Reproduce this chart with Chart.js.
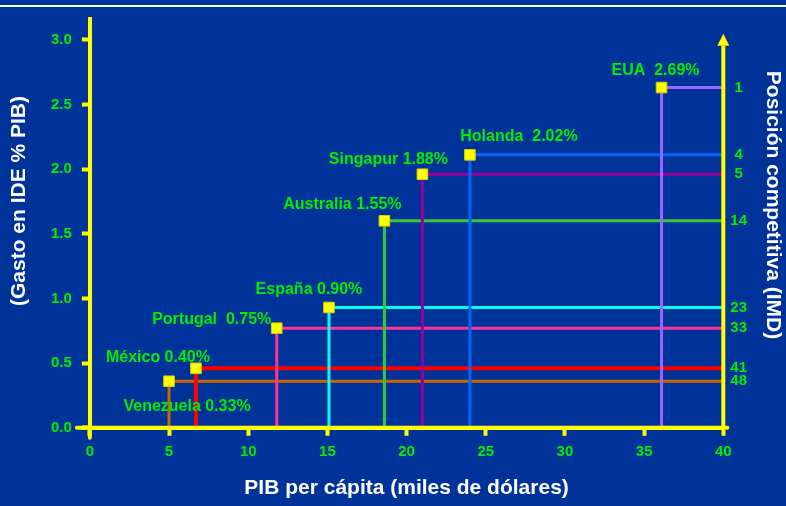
<!DOCTYPE html>
<html>
<head>
<meta charset="utf-8">
<script src="https://cdn.jsdelivr.net/npm/chart.js@4"></script>
<style>
  html, body { margin: 0; padding: 0; background: #003399; }
  #wrap { position: relative; width: 786px; height: 506px; overflow: hidden; }
  #topline { position: absolute; left: 0; top: 5px; width: 786px; height: 2px; background: #ffffff; }
  #chart { position: absolute; left: 0; top: 0; }
</style>
</head>
<body>
<div id="wrap">
  <div id="topline"></div>
  <canvas id="chart" width="786" height="506"></canvas>
</div>
<script>
// datos
var countries   = ['EUA', 'Holanda', 'Singapur', 'Australia', 'España', 'Portugal', 'México', 'Venezuela'];
var pointLabels = ['EUA  2.69%', 'Holanda  2.02%', 'Singapur 1.88%', 'Australia 1.55%', 'España 0.90%', 'Portugal  0.75%', 'México 0.40%', 'Venezuela 0.33%'];
var pibPerCapita = [36.1, 24.0, 21.0, 18.6, 15.1, 11.8, 6.7, 5.0];
var gastoIDE     = [2.63, 2.11, 1.96, 1.60, 0.93, 0.77, 0.46, 0.36];
var posicionIMD  = [1, 4, 5, 14, 23, 33, 41, 48];
var xTicks = [0, 5, 10, 15, 20, 25, 30, 35, 40];
var yTicks = [0, 0.5, 1.0, 1.5, 2.0, 2.5, 3.0];

var COLORS = ['#9966ff', '#0066ff', '#990099', '#33cc33', '#00ffff', '#ff3399', '#ff0000', '#cc6600'];
// desplazamiento de cada etiqueta respecto a su esquina (px)
var LABEL_OFFSETS = [[-6, -17], [49, -18], [-34, -15], [-42, -16], [-20, -18], [-65, -9], [-38, -11], [18, 25]];

var GREEN = '#00ee00';
var YELLOW = '#ffff00';
var FONT = '"Liberation Sans", Arial, sans-serif';
var X_MAX = xTicks[xTicks.length - 1];
var Y_MAX = 3.16;

var datasets = countries.map(function(c, i) {
  return {
    label: c,
    data: [
      { x: pibPerCapita[i], y: 0 },
      { x: pibPerCapita[i], y: gastoIDE[i] },
      { x: X_MAX, y: gastoIDE[i] }
    ],
    borderColor: COLORS[i],
    borderWidth: i === 6 ? 4 : 3,
    tension: 0,
    fill: false,
    pointRadius: [0, 7.5, 0],
    pointHoverRadius: [0, 7.5, 0],
    pointStyle: 'rect',
    pointBackgroundColor: YELLOW,
    pointBorderColor: '#d8d000',
    pointBorderWidth: 1
  };
});

var decor = {
  id: 'decor',
  afterDatasetsDraw: function(chart) {
    var ctx = chart.ctx;
    var area = chart.chartArea;
    var xs = chart.scales.x, ys = chart.scales.y;
    ctx.save();

    // eje x se prolonga a la izquierda
    ctx.strokeStyle = YELLOW;
    ctx.lineWidth = 4;
    ctx.lineCap = 'round';
    ctx.beginPath();
    ctx.moveTo(area.left - 13, area.bottom);
    ctx.lineTo(area.right + 4, area.bottom);
    ctx.stroke();
    ctx.beginPath();
    ctx.moveTo(area.left, area.bottom);
    ctx.lineTo(area.left, area.bottom + 10);
    ctx.stroke();

    // eje derecho con flecha
    var arrowBase = ys.getPixelForValue(3.0) + 6;
    ctx.lineCap = 'butt';
    ctx.beginPath();
    ctx.moveTo(area.right, area.bottom);
    ctx.lineTo(area.right, arrowBase);
    ctx.stroke();
    ctx.fillStyle = YELLOW;
    ctx.beginPath();
    ctx.moveTo(area.right - 6, arrowBase);
    ctx.lineTo(area.right + 6, arrowBase);
    ctx.lineTo(area.right, arrowBase - 12);
    ctx.closePath();
    ctx.fill();

    // etiquetas de paises
    ctx.font = 'bold 16px ' + FONT;
    ctx.fillStyle = GREEN;
    ctx.textAlign = 'center';
    ctx.textBaseline = 'middle';
    pointLabels.forEach(function(t, i) {
      var px = xs.getPixelForValue(pibPerCapita[i]);
      var py = ys.getPixelForValue(gastoIDE[i]);
      ctx.fillText(t, px + LABEL_OFFSETS[i][0], py + LABEL_OFFSETS[i][1]);
    });

    // titulos verticales
    ctx.fillStyle = '#ffffff';
    ctx.font = 'bold 21px ' + FONT;
    ctx.save();
    ctx.translate(19, 201);
    ctx.rotate(-Math.PI / 2);
    ctx.fillText('(Gasto en IDE % PIB)', 0, 0);
    ctx.restore();
    ctx.save();
    ctx.translate(773, 205);
    ctx.rotate(Math.PI / 2);
    ctx.fillText('Posición competitiva (IMD)', 0, 0);
    ctx.restore();

    ctx.restore();
  }
};

new Chart(document.getElementById('chart'), {
  type: 'line',
  data: { datasets: datasets },
  plugins: [decor],
  options: {
    responsive: false,
    animation: false,
    events: [],
    layout: { padding: { left: 41, right: 32, top: 14, bottom: 3 } },
    plugins: { legend: { display: false }, tooltip: { enabled: false } },
    scales: {
      x: {
        type: 'linear',
        min: 0,
        max: X_MAX,
        afterBuildTicks: function(axis) { axis.ticks = xTicks.map(function(v) { return { value: v }; }); },
        ticks: { color: GREEN, font: { family: FONT, size: 15, weight: 'bold' }, padding: 7, maxRotation: 0 },
        grid: { drawOnChartArea: false, drawTicks: true, tickLength: 8, tickColor: YELLOW, tickWidth: 4 },
        border: { color: YELLOW, width: 4 },
        title: { display: true, text: 'PIB per cápita (miles de dólares)', color: '#ffffff', font: { family: FONT, size: 21, weight: 'bold' }, padding: { top: 8, bottom: 2 } }
      },
      y: {
        type: 'linear',
        position: 'left',
        min: 0,
        max: Y_MAX,
        afterBuildTicks: function(axis) { axis.ticks = yTicks.map(function(v) { return { value: v }; }); },
        ticks: { color: GREEN, font: { family: FONT, size: 15, weight: 'bold' }, padding: 10, callback: function(v) { return v.toFixed(1); } },
        grid: { drawOnChartArea: false, drawTicks: true, tickLength: 8, tickColor: YELLOW, tickWidth: 4 },
        border: { color: YELLOW, width: 4 }
      },
      y2: {
        type: 'linear',
        position: 'right',
        min: 0,
        max: Y_MAX,
        afterBuildTicks: function(axis) { axis.ticks = gastoIDE.map(function(v) { return { value: v }; }); },
        ticks: { color: GREEN, font: { family: FONT, size: 15, weight: 'bold' }, padding: 7, autoSkip: false, crossAlign: 'center',
                 callback: function(v, idx) { return posicionIMD[idx]; } },
        grid: { display: false, drawTicks: false },
        border: { display: false }
      }
    }
  }
});
</script>
</body>
</html>
